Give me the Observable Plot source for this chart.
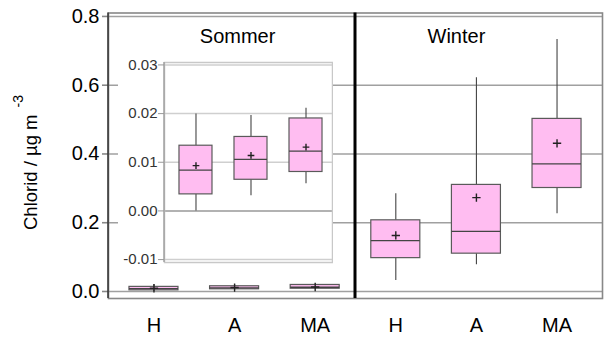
<!DOCTYPE html>
<html>
<head>
<meta charset="utf-8">
<script src="https://cdn.jsdelivr.net/npm/d3@7"></script>
<script src="https://cdn.jsdelivr.net/npm/@observablehq/plot@0.6"></script>
<style>
  body { margin: 0; background: #fff; font-family: "Liberation Sans", Arial, sans-serif; }
  #chart { position: relative; width: 605px; height: 337px; }
  #inset { position: absolute; left: 118px; top: 52px; line-height: 0; }
</style>
</head>
<body>
<div id="chart"><div id="inset"></div></div>
<script>
// Sites and seasons
const groups = ["H", "A", "MA"];
const seasons = ["Sommer", "Winter"];

// Chloride summaries (µg m-3): whisker ends, quartiles, median, mean
const sommerLow    = [0.0000, 0.0031, 0.0056];
const sommerQ1     = [0.0034, 0.0064, 0.0080];
const sommerMedian = [0.0084, 0.0106, 0.0123];
const sommerQ3     = [0.0134, 0.0152, 0.0190];
const sommerHigh   = [0.0199, 0.0196, 0.0211];
const sommerMean   = [0.0093, 0.0114, 0.0131];

const winterLow    = [0.032, 0.078, 0.226];
const winterQ1     = [0.097, 0.110, 0.301];
const winterMedian = [0.148, 0.175, 0.371];
const winterQ3     = [0.207, 0.310, 0.502];
const winterHigh   = [0.284, 0.622, 0.733];
const winterMean   = [0.163, 0.273, 0.431];

// Axis ticks
const yTicks = [0, 0.2, 0.4, 0.6, 0.8];
const insetTicks = [-0.01, 0, 0.01, 0.02, 0.03];

function rows(season, low, q1, med, q3, high, mean) {
  return groups.map((g, i) => ({
    key: season + "-" + g, group: g, season,
    low: low[i], q1: q1[i], median: med[i], q3: q3[i], high: high[i], mean: mean[i]
  }));
}
const sommer = rows(seasons[0], sommerLow, sommerQ1, sommerMedian, sommerQ3, sommerHigh, sommerMean);
const winter = rows(seasons[1], winterLow, winterQ1, winterMedian, winterQ3, winterHigh, winterMean);
const all = sommer.concat(winter);
const keys = all.map(d => d.key);
const labelOf = Object.fromEntries(all.map(d => [d.key, d.group]));

const pink = "#ffbdf1";
const edge = "#5a5a5a";

function boxMarks(data, x, plusR) {
  return [
    Plot.ruleX(data, {x, y1: "low", y2: "q1", stroke: "#444", strokeWidth: 1.1}),
    Plot.ruleX(data, {x, y1: "q3", y2: "high", stroke: "#444", strokeWidth: 1.1}),
    Plot.barY(data, {x, y1: "q1", y2: "q3", fill: pink, stroke: edge, strokeWidth: 1.2}),
    Plot.tickY(data, {x, y: "median", stroke: "#444", strokeWidth: 1.3}),
    Plot.dot(data, {x, y: "mean", symbol: "plus", r: plusR, stroke: "#222", strokeWidth: 1.4})
  ];
}

const main = Plot.plot({
  width: 605,
  height: 337,
  marginLeft: 108,
  marginRight: 3,
  marginTop: 12.5,
  marginBottom: 39,
  style: {fontFamily: "Liberation Sans, Arial, sans-serif", fontSize: "20px", color: "#000", background: "#fff"},
  x: {type: "band", domain: keys, paddingInner: 0.392, paddingOuter: 0.26, round: false, axis: null},
  y: {domain: [-0.0204, 0.81], axis: null},
  marks: [
    Plot.ruleY(yTicks, {stroke: "#a0a0a0", strokeWidth: 1.6}),
    Plot.frame({stroke: "#888", strokeWidth: 1.6}),
    Plot.axisY({ticks: yTicks, tickFormat: d3.format(".1f"), tickSize: 6, tickPadding: 3, stroke: "#888", strokeWidth: 1.6, fontSize: 20, label: null}),
    Plot.axisX({tickFormat: k => labelOf[k], tickSize: 0, tickPadding: 19, fontSize: 20, label: null}),
    ...boxMarks(all, "key", 2.8),
    Plot.text([seasons[0]], {x: [keys[1]], frameAnchor: "top", lineAnchor: "bottom", dy: 30, dx: 3, text: d => d, fontSize: 20}),
    Plot.text([seasons[1]], {x: [keys[4]], frameAnchor: "top", lineAnchor: "bottom", dy: 30, dx: -20, text: d => d, fontSize: 20})
  ]
});

const xs = main.scale("x");
const ys = main.scale("y");
const svgMain = d3.select(main);

// Dark left edge of the plot frame
svgMain.append("line")
  .attr("x1", xs.range[0]).attr("x2", xs.range[0])
  .attr("y1", ys.range[0]).attr("y2", ys.range[1])
  .attr("stroke", "#333").attr("stroke-width", 1.5);

// Season divider between the third and fourth category bands
const divX = (xs.apply(keys[2]) + xs.apply(keys[3])) / 2 + xs.bandwidth / 2;
svgMain.append("line")
  .attr("x1", divX).attr("x2", divX)
  .attr("y1", ys.range[0]).attr("y2", ys.range[1])
  .attr("stroke", "#000").attr("stroke-width", 3);

// Y-axis title with superscript unit exponent
const yTitle = svgMain.append("text")
  .attr("transform", "translate(37,230) rotate(-90)")
  .attr("text-anchor", "start")
  .attr("font-size", 18.5)
  .attr("fill", "#000");
yTitle.append("tspan").text("Chlorid / µg m");
yTitle.append("tspan").attr("dy", -14).attr("dx", 7).attr("font-size", 14).text("-3");

document.getElementById("chart").prepend(main);

// Inset: Sommer values on an enlarged scale
const inset = Plot.plot({
  width: 215,
  height: 216,
  marginLeft: 46,
  marginRight: 1,
  marginTop: 10,
  marginBottom: 6,
  style: {fontFamily: "Liberation Sans, Arial, sans-serif", fontSize: "15px", color: "#333", background: "#fff"},
  x: {type: "band", domain: groups, paddingInner: 0.4, paddingOuter: 0.227, align: 0.6, round: false, axis: null},
  y: {domain: [-0.0106, 0.0305], axis: null},
  marks: [
    Plot.ruleY(insetTicks, {stroke: d => d === 0 ? "#999" : "#cfcfcf", strokeWidth: 1.5}),
    Plot.frame({stroke: "#c8c8c8", strokeWidth: 1.5}),
    Plot.axisY({ticks: insetTicks, tickFormat: d => d.toFixed(2), tickSize: 6, tickPadding: 1, stroke: "#999", fontSize: 15, label: null}),
    ...boxMarks(sommer, "group", 2.3)
  ]
});

// Grey left edge of the inset frame
const ixs = inset.scale("x");
const iys = inset.scale("y");
d3.select(inset).append("line")
  .attr("x1", ixs.range[0]).attr("x2", ixs.range[0])
  .attr("y1", iys.range[0]).attr("y2", iys.range[1])
  .attr("stroke", "#999").attr("stroke-width", 1.3);

document.getElementById("inset").append(inset);
</script>
</body>
</html>
